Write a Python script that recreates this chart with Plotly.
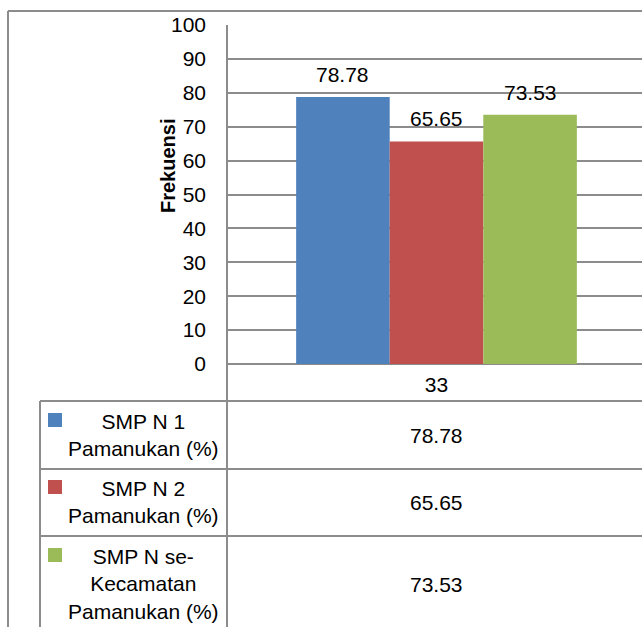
import plotly.graph_objects as go

# ---- data ----
category = ["33"]
series_names = ["SMP N 1<br>Pamanukan (%)", "SMP N 2<br>Pamanukan (%)", "SMP N se-<br>Kecamatan<br>Pamanukan (%)"]
series_values = [78.78, 65.65, 73.53]
series_colors = ["#4F81BD", "#C0504D", "#9BBB59"]
y_ticks = [0, 10, 20, 30, 40, 50, 60, 70, 80, 90, 100]
y_title = "Frekuensi"

W, H = 642, 627
PL, PT, PR, PB = 227, 25, 642, 364   # plot area pixel box
FONT = "Liberation Sans"
LINE = "#8c8c8c"
BARGAP = 0.33


def px(x):
    return (x - PL) / (PR - PL)


def py(y):
    return (PB - y) / (PB - PT)


fig = go.Figure()
for name, val, col in zip(series_names, series_values, series_colors):
    fig.add_trace(go.Bar(x=category, y=[val], name=name, marker=dict(color=col, line=dict(width=0)),
                         showlegend=False))

shapes = []


def line(x0, y0, x1, y1, w=2):
    shapes.append(dict(type="line", xref="paper", yref="paper", x0=px(x0), y0=py(y0), x1=px(x1), y1=py(y1),
                       line=dict(color=LINE, width=w)))


# outer chart border
line(8, 11, 642, 11)
line(8, 11, 8, 627)
# plot left edge / table divider
line(227, 25, 227, 627)
# data table
line(40, 401, 40, 627)
for yy in (401, 469, 536):
    line(40, yy, 642, yy)

# legend keys in table
key_tops = [413, 480, 548]
for col, top in zip(series_colors, key_tops):
    shapes.append(dict(type="rect", xref="paper", yref="paper", x0=px(48), x1=px(62), y0=py(top), y1=py(top + 14),
                       fillcolor=col, line=dict(width=0)))

annotations = []
# data labels above bars
n = len(series_values)
bw = (1 - BARGAP) / n
for i, val in enumerate(series_values):
    xc = -(1 - BARGAP) / 2 + bw * (i + 0.5)
    annotations.append(dict(x=xc, y=val, xref="x", yref="y", text=f"{val:.2f}", showarrow=False,
                            yanchor="bottom", yshift=9, font=dict(family=FONT, size=21, color="black")))

# table rows
row_centers = [435, 502, 584]
for name, val, yc in zip(series_names, series_values, row_centers):
    annotations.append(dict(x=px(143), y=py(yc), xref="paper", yref="paper", text=name, showarrow=False,
                            xanchor="center", yanchor="middle", align="center",
                            font=dict(family=FONT, size=21, color="black")))
    annotations.append(dict(x=0, y=py(yc), xref="x", yref="paper", text=f"{val:.2f}", showarrow=False,
                            xanchor="center", yanchor="middle", font=dict(family=FONT, size=21, color="black")))

# y-axis title
annotations.append(dict(x=px(168), y=py(166), xref="paper", yref="paper", text=f"<b>{y_title}</b>",
                        showarrow=False, textangle=-90, xanchor="center", yanchor="middle",
                        font=dict(family=FONT, size=20, color="black")))

fig.update_layout(
    width=W, height=H,
    margin=dict(l=PL, r=W - PR, t=PT, b=H - PB, pad=0),
    paper_bgcolor="white", plot_bgcolor="white",
    barmode="group", bargap=BARGAP, bargroupgap=0,
    font=dict(family=FONT, size=21, color="black"),
    shapes=shapes, annotations=annotations,
    showlegend=False,
)
fig.update_xaxes(type="category", range=[-0.5, 0.5 - 4 / 419], showgrid=False, showline=False,
                 ticks="", ticklabelstandoff=6, tickfont=dict(family=FONT, size=21, color="black"))
fig.update_yaxes(range=[0, 100], tickvals=y_ticks, showgrid=True, gridcolor=LINE, gridwidth=2,
                 zeroline=True, zerolinecolor=LINE, zerolinewidth=2, showline=False,
                 ticks="", ticklabelstandoff=20, tickfont=dict(family=FONT, size=21, color="black"))

fig.write_html("out.html")
